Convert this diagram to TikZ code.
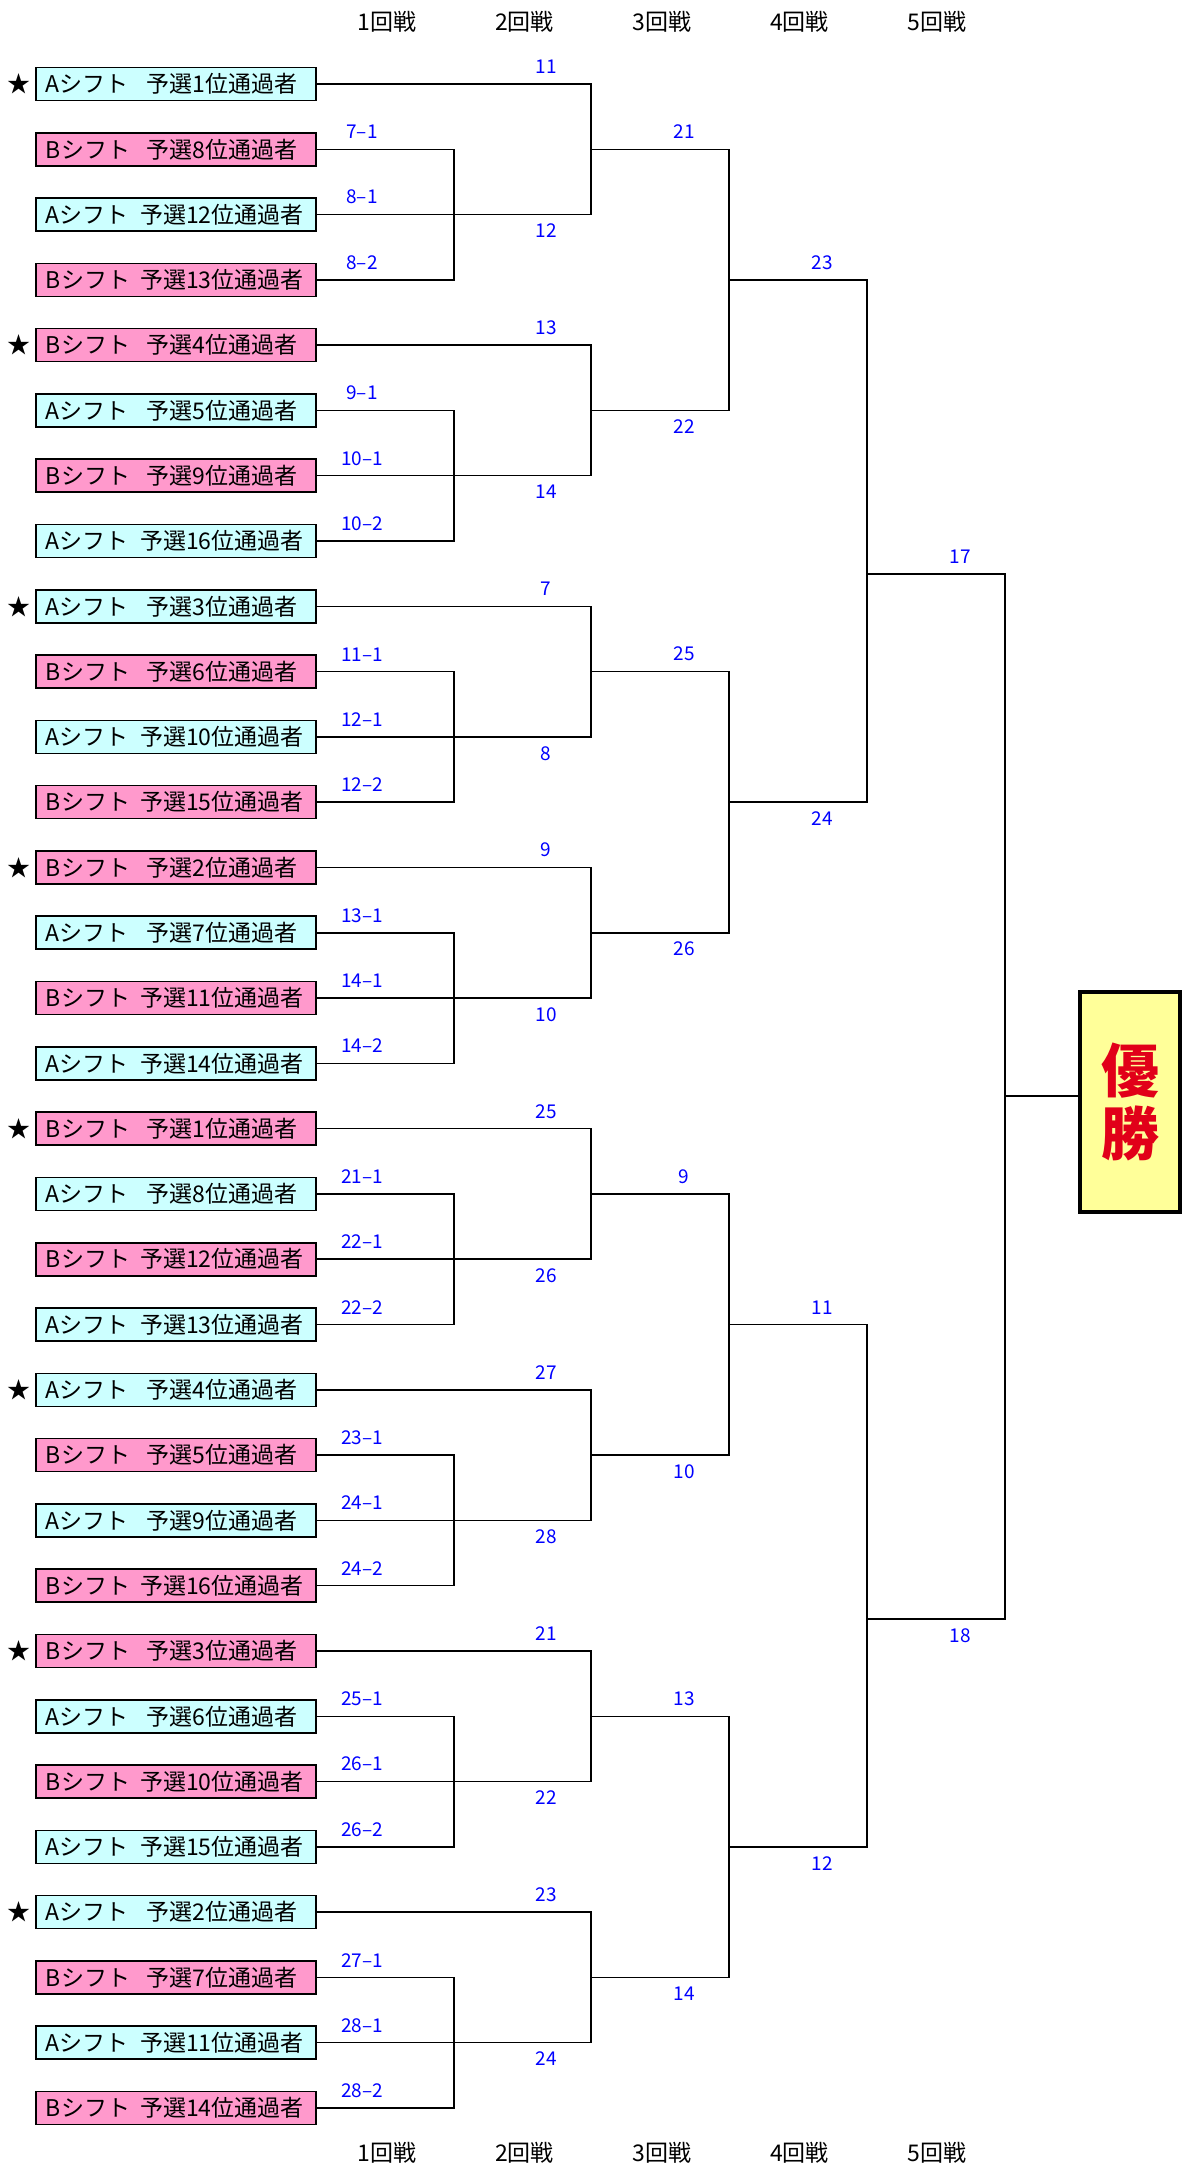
\documentclass[tikz,border=0pt]{standalone}
\usepackage{fontspec}
\setmainfont{Noto Sans CJK JP}
\usetikzlibrary{positioning,calc}
\definecolor{shiftA}{RGB}{204,255,255}
\definecolor{shiftB}{RGB}{255,153,204}
\definecolor{champfill}{RGB}{255,255,153}
\definecolor{champred}{RGB}{225,0,25}

\begin{document}
\begin{tikzpicture}[
    x=0.5pt, y=-0.5pt,
    font=\fontsize{11.5}{13}\selectfont,
    entry/.style={draw, line width=0.8pt, minimum width=140pt, minimum height=16.5pt, inner sep=0pt},
    num/.style={text=blue, font=\fontsize{9.5}{10}\selectfont, inner sep=1pt},
    heading/.style={font=\fontsize{11.5}{13}\selectfont},
    wire/.style={line width=0.75pt},
    champbox/.style={draw, line width=2.3pt, fill=champfill, minimum width=50pt, minimum height=110pt, align=center, text=champred, font=\fontsize{29}{31.5}\selectfont\bfseries}
]
\useasboundingbox (0,0) rectangle (1183,2167);

% ---------- Columns ----------
\coordinate (col1) at (454,0);
\coordinate (col2) at (591,0);
\coordinate (col3) at (729,0);
\coordinate (col4) at (867,0);
\coordinate (lab1) at (362,0);
\coordinate (lab2) at (546,0);
\coordinate (lab3) at (684,0);
\coordinate (lab4) at (822,0);
\coordinate (lab5) at (960,0);

% ---------- Round headings ----------
\foreach \k in {1,...,5} {
  \node[heading] (top\k) at ({387+137.5*(\k-1)}, 22) {{\k}回戦};
  \node[heading] (bot\k) at ({387+137.5*(\k-1)}, 2153) {{\k}回戦};
}

% ---------- Entries ----------
\foreach \i/\sh/\rk/\st in {1/A/1/1, 2/B/8/0, 3/A/12/0, 4/B/13/0,
    5/B/4/1, 6/A/5/0, 7/B/9/0, 8/A/16/0,
    9/A/3/1, 10/B/6/0, 11/A/10/0, 12/B/15/0,
    13/B/2/1, 14/A/7/0, 15/B/11/0, 16/A/14/0,
    17/B/1/1, 18/A/8/0, 19/B/12/0, 20/A/13/0,
    21/A/4/1, 22/B/5/0, 23/A/9/0, 24/B/16/0,
    25/B/3/1, 26/A/6/0, 27/B/10/0, 28/A/15/0,
    29/A/2/1, 30/B/7/0, 31/A/11/0, 32/B/14/0} {
  \node[entry, fill=shift\sh] (e\i) at (176, {84+65.29*(\i-1)})
    {\makebox[46pt][l]{{\sh}シフト}\makebox[84pt][c]{予選{\rk}位通過者}};
  \ifnum\st=1 \node[left=2pt of e\i, inner sep=0pt] (star\i) {★}; \fi
}

% ---------- Rounds 1 and 2 ----------
\foreach \g/\ra/\rb/\wa/\wb in {0/7/8/11/12, 1/9/10/13/14, 2/11/12/7/8, 3/13/14/9/10,
    4/21/22/25/26, 5/23/24/27/28, 6/25/26/21/22, 7/27/28/23/24} {
  \pgfmathtruncatemacro{\na}{4*\g+1}
  \pgfmathtruncatemacro{\nb}{4*\g+2}
  \pgfmathtruncatemacro{\nc}{4*\g+3}
  \pgfmathtruncatemacro{\nd}{4*\g+4}
  \coordinate (p\g) at (e\nc.east -| col1);
  \coordinate (m\g) at (e\nb.east -| col2);
  \draw[wire] (e\nb.east) -| (p\g) |- (e\nd.east);
  \draw[wire] (e\na.east) -| (m\g) |- (e\nc.east);
  \node[num, above=4pt] at (e\nb.east -| lab1) {{\ra}--1};
  \node[num, above=4pt] at (e\nc.east -| lab1) {{\rb}--1};
  \node[num, above=4pt] at (e\nd.east -| lab1) {{\rb}--2};
  \node[num, above=4pt] at (e\na.east -| lab2) {\wa};
  \node[num, below=3.5pt] at (e\nc.east -| lab2) {\wb};
}

% ---------- Round 3 ----------
\foreach \h/\ta/\tb in {0/21/22, 1/25/26, 2/9/10, 3/13/14} {
  \pgfmathtruncatemacro{\gu}{2*\h}
  \pgfmathtruncatemacro{\gl}{2*\h+1}
  \pgfmathtruncatemacro{\nd}{8*\h+4}
  \coordinate (q\h) at (e\nd.east -| col3);
  \draw[wire] (m\gu) -| (q\h) |- (m\gl);
  \node[num, above=4pt] at (m\gu -| lab3) {\ta};
  \node[num, below=3.5pt] at (m\gl -| lab3) {\tb};
}

% ---------- Round 4 ----------
\foreach \k/\ua/\ub/\yk in {0/23/24/574, 1/11/12/1619} {
  \pgfmathtruncatemacro{\qu}{2*\k}
  \pgfmathtruncatemacro{\ql}{2*\k+1}
  \coordinate (s\k) at (867, \yk);
  \draw[wire] (q\qu) -| (s\k) |- (q\ql);
  \node[num, above=4pt] at (q\qu -| lab4) {\ua};
  \node[num, below=3.5pt] at (q\ql -| lab4) {\ub};
}

% ---------- Round 5 and champion ----------
\node[champbox] (champ) at (1130, 1102) {優\\勝};
\coordinate (fin) at (1005, 1096);
\draw[wire] (s0) -| (fin) |- (s1);
\draw[wire] (fin) -- (fin -| champ.west);
\node[num, above=4pt] at (s0 -| lab5) {17};
\node[num, below=3.5pt] at (s1 -| lab5) {18};

\end{tikzpicture}
\end{document}
